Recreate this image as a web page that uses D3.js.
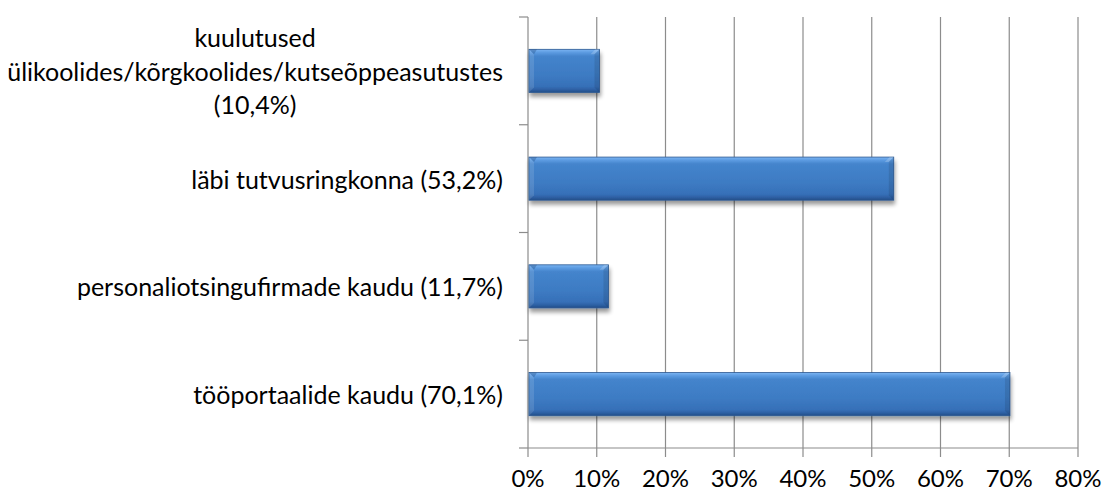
<!DOCTYPE html>
<html><head><meta charset="utf-8">
<script src="https://cdn.jsdelivr.net/npm/d3@7"></script>
<style>body{margin:0;background:#fff;} svg{display:block;}</style>
</head><body>
<svg id="c" width="1103" height="493"></svg>
<script>
const categories = [
  ["kuulutused", "ülikoolides/kõrgkoolides/kutseõppeasutustes", "(10,4%)"],
  ["läbi tutvusringkonna (53,2%)"],
  ["personaliotsingufirmade kaudu (11,7%)"],
  ["tööportaalide kaudu (70,1%)"]
];
const values = [10.4, 53.2, 11.7, 70.1];
const xTicks = [0, 10, 20, 30, 40, 50, 60, 70, 80];
const tickLabels = ["0%", "10%", "20%", "30%", "40%", "50%", "60%", "70%", "80%"];

(function () {
const svg = d3.select("#c");
const pl = 528, pr = 1078, pt = 17, pb = 448;
const font = "Lato, 'Open Sans', 'Liberation Sans', sans-serif";
const fs = 25;

const x = d3.scaleLinear().domain([0, 80]).range([pl, pr]);
const idx = categories.map((d, i) => i);
const y = d3.scaleBand().domain(idx).range([pt, pb]).paddingInner(0.6).paddingOuter(0.3);

const defs = svg.append("defs");
const g = defs.append("linearGradient").attr("id", "bg").attr("x1", 0).attr("y1", 0).attr("x2", 0).attr("y2", 1);
[[0, "#7cb5f2"], [0.07, "#5d9ce2"], [0.16, "#4484cc"], [0.6, "#3d7bc3"], [0.86, "#3670b8"], [0.93, "#2e61a5"], [1, "#234e88"]]
  .forEach(([o, c]) => g.append("stop").attr("offset", o).attr("stop-color", c));
const f = defs.append("filter").attr("id", "sh").attr("x", "-10%").attr("y", "-30%").attr("width", "120%").attr("height", "170%");
f.append("feGaussianBlur").attr("in", "SourceAlpha").attr("stdDeviation", 2.2).attr("result", "b");
f.append("feOffset").attr("in", "b").attr("dx", 1).attr("dy", 3.5).attr("result", "o");
f.append("feComponentTransfer").attr("in", "o").attr("result", "t").append("feFuncA").attr("type", "linear").attr("slope", 0.4);
const fm = f.append("feMerge");
fm.append("feMergeNode").attr("in", "t");
fm.append("feMergeNode").attr("in", "SourceGraphic");

svg.append("g").selectAll("line").data(xTicks).join("line")
  .attr("x1", d => x(d)).attr("x2", d => x(d))
  .attr("y1", pt).attr("y2", pb + 9)
  .attr("stroke", "#8c8c8c").attr("stroke-width", 1.2);
svg.append("line").attr("x1", pl).attr("x2", pr).attr("y1", pb).attr("y2", pb)
  .attr("stroke", "#8c8c8c").attr("stroke-width", 1.2);
const bounds = idx.map(i => y(i) - y.step() * y.paddingInner() / 2).concat([pb]);
svg.append("g").selectAll("line").data(bounds).join("line")
  .attr("x1", pl - 9).attr("x2", pl).attr("y1", d => d).attr("y2", d => d)
  .attr("stroke", "#8c8c8c").attr("stroke-width", 1.2);

const bars = svg.append("g").selectAll("g").data(values).join("g").attr("filter", "url(#sh)");
bars.each(function (v, i) {
  const s = d3.select(this);
  const x0 = x(0) + 1, x1 = x(v), y0 = y(i), h = y.bandwidth(), y1 = y0 + h, b = 5;
  s.append("rect").attr("x", x0).attr("y", y0).attr("width", x1 - x0).attr("height", h)
    .attr("fill", "url(#bg)").attr("stroke", "#2a5791").attr("stroke-width", 0.8);
  s.append("path").attr("d", `M${x0},${y0}L${x0 + b},${y0 + b}L${x0 + b},${y1 - b}L${x0},${y1}Z`)
    .attr("fill", "#ffffff").attr("opacity", 0.12);
  s.append("path").attr("d", `M${x0},${y0}L${x0 + b * 1.6},${y0}L${x0 + b},${y0 + b}Z`)
    .attr("fill", "#1f4a80").attr("opacity", 0.35);
  s.append("path").attr("d", `M${x1},${y0}L${x1 - b},${y0 + b}L${x1 - b},${y1 - b}L${x1},${y1}Z`)
    .attr("fill", "#000").attr("opacity", 0.1);
  s.append("path").attr("d", `M${x1},${y0}L${x1 - b},${y0 + b}L${x1 - b - 4},${y0 + b}L${x1 - 4},${y0}Z`)
    .attr("fill", "#ffffff").attr("opacity", 0.2);
});

svg.append("g").selectAll("text").data(xTicks).join("text")
  .attr("x", d => x(d)).attr("y", 487)
  .attr("text-anchor", "middle").attr("font-family", font).attr("font-size", 24).attr("fill", "#000")
  .text((d, i) => tickLabels[i]);

const labelRight = 503;
const lineH = 33.5;
categories.forEach((lines, i) => {
  const cy = y(i) + y.bandwidth() / 2;
  const grp = svg.append("g");
  const texts = grp.selectAll("text").data(lines).join("text")
    .attr("font-family", font).attr("font-size", fs).attr("fill", "#000")
    .attr("text-anchor", "middle").attr("dominant-baseline", "central")
    .attr("y", (d, k) => cy + (k - (lines.length - 1) / 2) * lineH)
    .text(d => d);
  let w = 0;
  texts.each(function () { w = Math.max(w, this.getComputedTextLength()); });
  texts.attr("x", labelRight - w / 2);
});
})();
</script>
</body></html>
